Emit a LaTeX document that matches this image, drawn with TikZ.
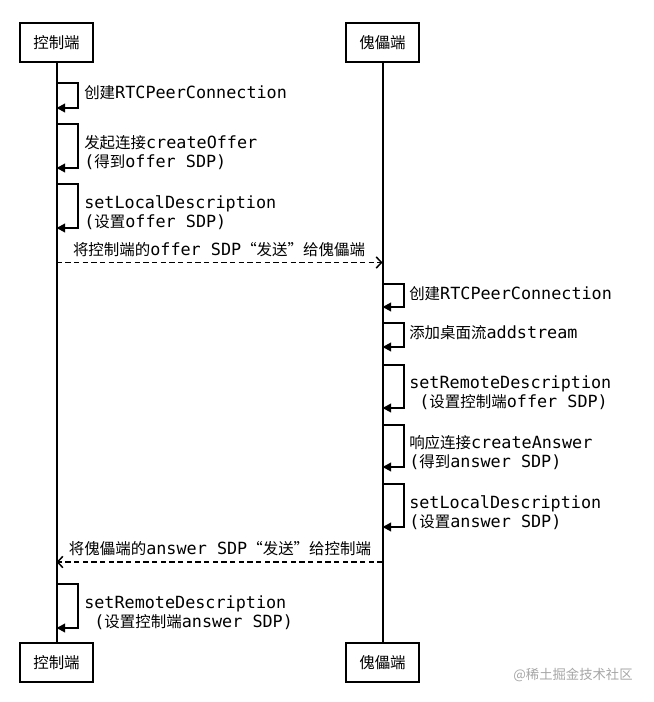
\documentclass[tikz,border=0pt]{standalone}
\usepackage{fontspec}
\setmainfont[Scale=1.085]{DejaVu Sans Mono}
\newfontfamily\cjk{Noto Sans CJK SC}
\newcommand{\zh}[1]{{\cjk #1}}
\usetikzlibrary{arrows.meta}

\begin{document}
\begin{tikzpicture}[x=0.75pt, y=-0.75pt,
            font=\fontsize{11.6}{14.3}\selectfont,
            actor/.style={draw, line width=1.5pt, minimum width=54.75pt,
            minimum height=29.25pt, inner sep=0pt},
            lifeline/.style={line width=1.5pt},
            selfmsg/.style={line width=1.5pt, -{Triangle[length=6.5pt,width=6.5pt]}},
            sendmsg/.style={line width=1.1pt, dash pattern=on 4pt off 2.5pt,
            -{Straight Barb[length=4pt,width=8.5pt]}},
            note/.style={anchor=west, align=left, inner sep=0pt}]
          \useasboundingbox (0,0) rectangle (653,702);
          % actors
          \node[actor] (ctlT) at (56.5,42.5) {\zh{控制端}};
          \node[actor] (pupT) at (382.5,42.5) {\zh{傀儡端}};
          \node[actor] (ctlB) at (56.5,662.5) {\zh{控制端}};
          \node[actor] (pupB) at (382.5,662.5) {\zh{傀儡端}};
          \draw[lifeline] (ctlT) -- (ctlB);
          \draw[lifeline] (pupT) -- (pupB);
          % self messages
          \foreach \n/\lx/\ya/\yb in {c1/56.5/83/108, c2/56.5/124/168, c3/56.5/184/228,
              p1/382.5/284/307, p2/382.5/323/347, p3/382.5/365/408,
              p4/382.5/425/467, p5/382.5/484/527, c4/56.5/584/628}
            \draw[selfmsg] (\lx,\ya) coordinate (\n a) -- ++(21,0) |- (\lx,\yb) coordinate (\n b);
          \node[note] (l1) at (84,93) {\zh{创建}RTCPeerConnection};
          \node[note] (l2) at (84,153) {\zh{发起连接}createOffer\\(\zh{得到}offer SDP)};
          \node[note] (l3) at (84,212.5) {setLocalDescription\\(\zh{设置}offer SDP)};
          \node[note] (r1) at (409,294) {\zh{创建}RTCPeerConnection};
          \node[note] (r2) at (409,333) {\zh{添加桌面流}addstream};
          \node[note] (r3) at (409,393) {setRemoteDescription\\~(\zh{设置控制端}offer SDP)};
          \node[note] (r4) at (409,452.5) {\zh{响应连接}createAnswer\\(\zh{得到}answer SDP)};
          \node[note] (r5) at (409,512.5) {setLocalDescription\\(\zh{设置}answer SDP)};
          \node[note] (l4) at (84,613) {setRemoteDescription\\~(\zh{设置控制端}answer SDP)};
          % offer / answer exchange
          \coordinate (o1) at (56.5,262.5);
          \coordinate (o2) at (382.5,262.5);
          \coordinate (a1) at (382.5,562);
          \coordinate (a2) at (56.5,562);
          \draw[sendmsg] (o1) -- (o2);
          \draw[sendmsg] (a1) -- (a2);
          \node (m1) at (219,250) {\zh{将控制端的}offer SDP\zh{“发送”给傀儡端}};
          \node (m2) at (220,549) {\zh{将傀儡端的}answer SDP\zh{“发送”给控制端}};
          \node[text=black!35, font=\cjk\fontsize{10}{12}\selectfont] (wm) at (573,675) {@稀土掘金技术社区};
        \end{tikzpicture}
\end{document}
